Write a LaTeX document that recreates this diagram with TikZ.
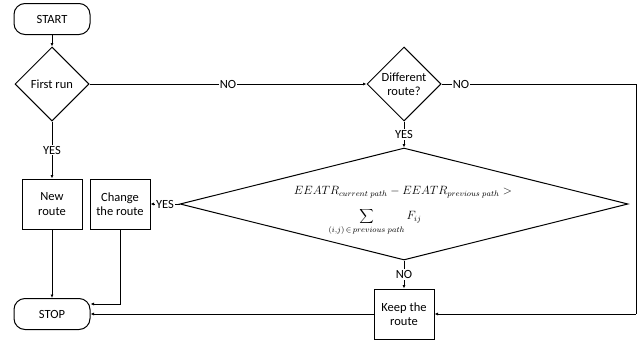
\documentclass[tikz,border=0pt]{standalone}
\usepackage{fontspec}
\setmainfont{Carlito}
\usetikzlibrary{shapes.geometric,arrows.meta,calc}
\begin{document}
\begin{tikzpicture}[x=1pt,y=-1pt,
  font=\fontsize{12.5}{14.5}\selectfont,
  term/.style={draw,line width=1pt,rounded corners=11pt,minimum width=76pt,minimum height=31pt,inner sep=0pt},
  proc/.style={draw,line width=1pt,minimum width=60pt,minimum height=50pt,inner sep=1pt,align=center},
  dec/.style={draw,line width=1pt,diamond,inner sep=0pt,minimum width=74pt,minimum height=74pt,align=center},
  lbl/.style={fill=white,inner sep=1pt},
  arr/.style={line width=0.8pt,-{Latex[length=3.5pt,width=3pt]}},
  ln/.style={line width=0.8pt},
  mathtxt/.style={font=\fontsize{12}{14}\selectfont}]
\useasboundingbox (0,0) rectangle (637,340);

\node[term] (start) at (52,19) {START};
\node[dec] (first) at (52,84) {First run};
\node[dec] (diff) at (404,84) {Different\\route?};
\node[proc] (newr) at (52,204) {New\\route};
\node[proc] (change) at (120,204) {Change\\the route};
\node[dec,minimum width=448pt,minimum height=112pt] (cond) at (404,204) {};
\node[mathtxt] (ineq) at (403,192) {$EEATR_{current\;path} - EEATR_{previous\;path} >$};
\node[mathtxt] (sum) at (375,222) {$\displaystyle\sum_{(i,j)\,\in\,previous\;path} F_{ij}$};
\node[proc] (keep) at (404,314) {Keep the\\route};
\node[term] (stop) at (52,314) {STOP};
\coordinate (c1) at (636,84);
\coordinate (c2) at (636,314);

\draw[arr] (start) -- (first);
\draw[arr] (first) -- node[lbl] {YES} (newr);
\draw[arr] (first) -- node[lbl] {NO} (diff);
\draw[arr] (diff) -- node[lbl] {YES} (cond);
\draw[ln] (diff.east) -- node[lbl,pos=0.1] {NO} (c1) -- (c2);
\draw[arr] (c2) -- (keep);
\draw[arr] (cond.west) -- node[lbl] {YES} (change.east);
\draw[arr] (cond.south) -- node[lbl] {NO} (keep.north);
\draw[arr] (newr) -- (stop);
\draw[arr] (change.south) |- ($(stop.east)+(0,-10)$);
\draw[arr] (keep) -- (stop);
\end{tikzpicture}
\end{document}
